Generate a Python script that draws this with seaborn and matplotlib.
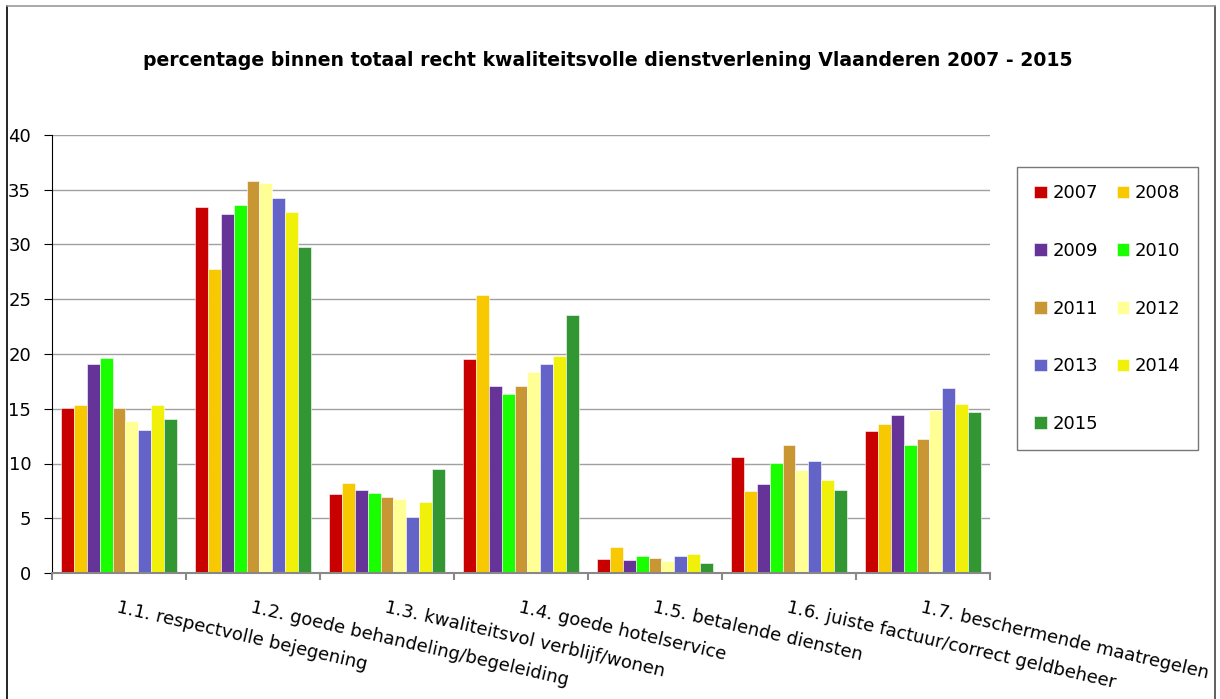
import seaborn as sns
import matplotlib.pyplot as plt
import pandas as pd
from matplotlib.lines import Line2D

# categories and years
categories = ['1.1. respectvolle bejegening',
              '1.2. goede behandeling/begeleiding',
              '1.3. kwaliteitsvol verblijf/wonen',
              '1.4. goede hotelservice',
              '1.5. betalende diensten',
              '1.6. juiste factuur/correct geldbeheer',
              '1.7. beschermende maatregelen']
years = ['2007', '2008', '2009', '2010', '2011', '2012', '2013', '2014', '2015']

# values per year, one per category
v2007 = [15.1, 33.4, 7.2, 19.5, 1.25, 10.6, 12.95]
v2008 = [15.3, 27.8, 8.2, 25.4, 2.35, 7.5, 13.65]
v2009 = [19.1, 32.75, 7.55, 17.05, 1.2, 8.1, 14.4]
v2010 = [19.65, 33.6, 7.3, 16.35, 1.55, 10.05, 11.7]
v2011 = [15.1, 35.8, 6.9, 17.1, 1.4, 11.7, 12.25]
v2012 = [13.9, 35.65, 6.8, 18.4, 1.1, 9.45, 14.9]
v2013 = [13.1, 34.25, 5.1, 19.1, 1.55, 10.2, 16.9]
v2014 = [15.3, 32.95, 6.5, 19.8, 1.75, 8.5, 15.45]
v2015 = [14.05, 29.8, 9.5, 23.6, 0.95, 7.55, 14.7]

colors = ['#C80000', '#F8C800', '#663399', '#19FF00', '#C89632',
          '#FFFF96', '#6464C8', '#F0F00A', '#329632']

series = [v2007, v2008, v2009, v2010, v2011, v2012, v2013, v2014, v2015]
rows = []
for y, vals in zip(years, series):
    for c, v in zip(categories, vals):
        rows.append({'categorie': c, 'jaar': y, 'pct': v})
df = pd.DataFrame(rows)

sns.set_style('white')
plt.rcParams['font.family'] = ['DejaVu Sans']
plt.rcParams['text.color'] = 'black'
plt.rcParams['xtick.color'] = 'black'
plt.rcParams['ytick.color'] = 'black'

fig = plt.figure(figsize=(12.2, 6.99), dpi=100)
ax = fig.add_axes([52/1220, 1-573/699, (990-52)/1220, (573-135)/699])

sns.barplot(data=df, x='categorie', y='pct', hue='jaar', order=categories,
            hue_order=years, palette=colors, saturation=1, width=0.86, gap=0,
            edgecolor='white', linewidth=0.4, ax=ax)

ax.set_ylim(0, 40)
ax.set_yticks(range(0, 41, 5))
ax.set_xlim(-0.5, len(categories) - 0.5)
ax.yaxis.grid(True, color='#A0A0A0', linewidth=1)
ax.set_axisbelow(True)
ax.set_xlabel('')
ax.set_ylabel('')
for s in ['top', 'right']:
    ax.spines[s].set_visible(False)
ax.spines['left'].set_color('black')
ax.spines['bottom'].set_color('#888888')
ax.spines['bottom'].set_linewidth(1.5)

ax.tick_params(axis='y', labelsize=13, length=6, pad=9, color='black', left=True)
ax.set_xticks(range(len(categories)))
ax.set_xticklabels(categories, rotation=-13, ha='left', rotation_mode='anchor',
                   fontsize=13, color='black')
ax.tick_params(axis='x', which='major', length=0, pad=18)
ax.set_xticks([i - 0.5 for i in range(len(categories) + 1)], minor=True)
ax.tick_params(axis='x', which='minor', length=5, color='#888888', width=1.5,
               bottom=True)

# legend filled row by row
handles, labels = ax.get_legend_handles_labels()
ax.get_legend().remove()
order = [0, 2, 4, 6, 8, 1, 3, 5, 7]
fig.legend([handles[i] for i in order], [labels[i] for i in order],
           loc='upper left', bbox_to_anchor=(1017/1220, 1-167/699),
           borderaxespad=0, ncol=2, fontsize=13, frameon=True, fancybox=False,
           edgecolor='#555555', handlelength=0.7, handleheight=0.7,
           handletextpad=0.3, labelspacing=2.2, columnspacing=1.05,
           borderpad=0.95)

fig.suptitle('percentage binnen totaal recht kwaliteitsvolle dienstverlening Vlaanderen 2007 - 2015',
             x=608/1220, y=1-60/699, va='center', fontsize=13.6, fontweight='bold',
             color='black')

# chart frame (left, top, right)
fig.add_artist(Line2D([7/1220, 7/1220], [0, 1-6/699], transform=fig.transFigure,
                      color='black', linewidth=1.2))
fig.add_artist(Line2D([1215/1220, 1215/1220], [0, 1-6/699], transform=fig.transFigure,
                      color='#444444', linewidth=1.2))
fig.add_artist(Line2D([7/1220, 1215/1220], [1-6/699, 1-6/699], transform=fig.transFigure,
                      color='#999999', linewidth=1.2))

plt.savefig('out.png', dpi=100)
